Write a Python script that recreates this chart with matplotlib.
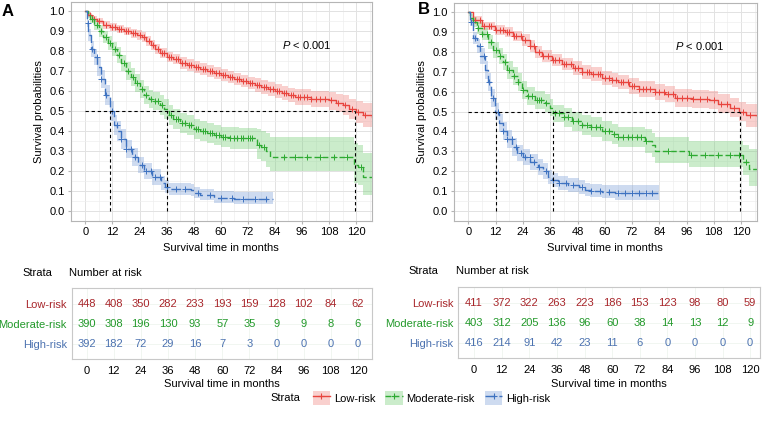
import numpy as np
import matplotlib
matplotlib.use("Agg")
import matplotlib.pyplot as plt
from matplotlib.patches import Patch
from matplotlib.lines import Line2D

# ---------------- data ----------------
strata = ["Low-risk", "Moderate-risk", "High-risk"]
risk_times = [0, 12, 24, 36, 48, 60, 72, 84, 96, 108, 120]

# panel A
a_low_t = [0, 1, 3, 5, 8, 11, 14, 17, 20, 23, 25, 27, 29, 31, 33, 36, 39, 42, 45, 48, 51, 54, 57, 60, 63, 66, 69, 72, 75, 78, 81, 84, 87, 90, 93, 96, 100, 104, 108, 111, 114, 117, 120, 123, 127]
a_low_s = [1.0, 0.98, 0.96, 0.95, 0.93, 0.92, 0.91, 0.90, 0.89, 0.88, 0.87, 0.85, 0.83, 0.81, 0.79, 0.77, 0.76, 0.74, 0.73, 0.72, 0.71, 0.70, 0.69, 0.68, 0.67, 0.66, 0.65, 0.64, 0.63, 0.62, 0.61, 0.60, 0.59, 0.58, 0.57, 0.57, 0.56, 0.56, 0.555, 0.54, 0.53, 0.51, 0.495, 0.48, 0.47]
a_low_up = [1.0, 0.99, 0.975, 0.965, 0.95, 0.94, 0.93, 0.92, 0.91, 0.905, 0.895, 0.875, 0.855, 0.835, 0.815, 0.795, 0.785, 0.77, 0.76, 0.75, 0.74, 0.73, 0.72, 0.71, 0.70, 0.69, 0.68, 0.67, 0.665, 0.655, 0.645, 0.635, 0.625, 0.615, 0.61, 0.61, 0.60, 0.60, 0.595, 0.585, 0.58, 0.56, 0.55, 0.54, 0.535]
a_low_lo = [1.0, 0.97, 0.945, 0.935, 0.91, 0.90, 0.89, 0.88, 0.865, 0.855, 0.845, 0.825, 0.805, 0.785, 0.765, 0.745, 0.735, 0.71, 0.70, 0.69, 0.68, 0.67, 0.66, 0.65, 0.64, 0.63, 0.62, 0.61, 0.595, 0.585, 0.575, 0.565, 0.555, 0.545, 0.53, 0.53, 0.52, 0.52, 0.505, 0.495, 0.48, 0.46, 0.44, 0.42, 0.41]
a_low_cens = [2, 4, 6, 9, 12, 13, 15, 16, 18, 19, 21, 22, 24, 26, 28, 30, 32, 34, 35, 37, 38, 40, 41, 43, 44, 46, 47, 49, 50, 52, 53, 55, 56, 58, 59, 61, 62, 64, 65, 67, 68, 70, 71, 73, 74, 76, 77, 79, 80, 82, 83, 85, 86, 88, 89, 91, 92, 94, 95, 97, 98, 100, 102, 104, 106, 109, 112, 115, 118, 121, 124]

a_mod_t = [0, 1, 2, 4, 6, 8, 10, 12, 14, 16, 18, 20, 22, 24, 26, 28, 30, 33, 35, 37, 39, 42, 45, 48, 51, 54, 57, 60, 64, 68, 76, 78, 80, 82, 119, 121, 123, 127]
a_mod_s = [1.0, 0.98, 0.96, 0.93, 0.90, 0.87, 0.84, 0.81, 0.78, 0.74, 0.70, 0.67, 0.64, 0.61, 0.58, 0.56, 0.55, 0.53, 0.51, 0.48, 0.46, 0.44, 0.43, 0.41, 0.40, 0.39, 0.38, 0.37, 0.365, 0.365, 0.33, 0.32, 0.30, 0.27, 0.23, 0.22, 0.17, 0.17]
a_mod_up = [1.0, 0.995, 0.98, 0.955, 0.93, 0.90, 0.875, 0.845, 0.82, 0.78, 0.745, 0.715, 0.685, 0.655, 0.625, 0.605, 0.595, 0.58, 0.56, 0.53, 0.51, 0.49, 0.48, 0.46, 0.45, 0.44, 0.43, 0.42, 0.42, 0.415, 0.41, 0.40, 0.39, 0.37, 0.34, 0.33, 0.29, 0.29]
a_mod_lo = [1.0, 0.965, 0.94, 0.905, 0.87, 0.84, 0.805, 0.775, 0.74, 0.70, 0.655, 0.625, 0.595, 0.565, 0.535, 0.515, 0.505, 0.48, 0.46, 0.43, 0.41, 0.39, 0.38, 0.36, 0.35, 0.34, 0.33, 0.32, 0.31, 0.31, 0.26, 0.25, 0.22, 0.20, 0.14, 0.13, 0.08, 0.08]
a_mod_cens = [3, 5, 7, 9, 11, 13, 15, 17, 19, 21, 23, 25, 27, 29, 31, 32, 34, 38, 40, 41, 43, 44, 46, 47, 49, 50, 52, 53, 55, 56, 58, 59, 61, 62, 64, 66, 67, 69, 70, 72, 73, 74, 77, 79, 88, 93, 98, 104, 110, 116, 122]

a_high_t = [0, 0.6, 1.2, 2.4, 3.8, 5.3, 6.8, 8.6, 10.9, 12.7, 14.2, 15.6, 17.8, 20.8, 23.3, 26, 29.6, 33.3, 35.5, 37, 46.6, 48, 51, 57, 66, 83]
a_high_s = [1.0, 0.94, 0.88, 0.81, 0.77, 0.72, 0.66, 0.58, 0.50, 0.43, 0.40, 0.36, 0.31, 0.27, 0.23, 0.20, 0.17, 0.14, 0.12, 0.11, 0.105, 0.09, 0.08, 0.065, 0.06, 0.06]
a_high_up = [1.0, 0.96, 0.91, 0.85, 0.81, 0.765, 0.705, 0.63, 0.55, 0.48, 0.45, 0.41, 0.355, 0.315, 0.27, 0.24, 0.21, 0.175, 0.155, 0.14, 0.135, 0.12, 0.11, 0.10, 0.095, 0.095]
a_high_lo = [1.0, 0.92, 0.85, 0.77, 0.73, 0.675, 0.615, 0.53, 0.45, 0.38, 0.35, 0.31, 0.265, 0.225, 0.19, 0.16, 0.13, 0.105, 0.09, 0.08, 0.075, 0.065, 0.055, 0.04, 0.035, 0.035]
a_high_cens = [1, 3, 5, 7, 9, 12, 14, 16, 18, 20, 22, 25, 27, 29, 31, 33, 36, 40, 44, 50, 55, 60, 65, 70, 75, 80]

a_risk_low = [448, 408, 350, 282, 233, 193, 159, 128, 102, 84, 62]
a_risk_mod = [390, 308, 196, 130, 93, 57, 35, 9, 9, 8, 6]
a_risk_high = [392, 182, 72, 29, 16, 7, 3, 0, 0, 0, 0]
a_medians = [10.9, 36.0, 119.6]

# panel B
b_low_t = [0, 2.2, 5.9, 11.7, 16, 19.8, 23.5, 27, 29.4, 32.3, 36.7, 41, 46, 50, 54, 58.7, 63, 66, 70.5, 75, 82, 86.7, 91, 98.4, 105.7, 110, 115, 119, 122, 127]
b_low_s = [1.0, 0.96, 0.93, 0.91, 0.90, 0.88, 0.86, 0.83, 0.80, 0.78, 0.76, 0.74, 0.72, 0.70, 0.69, 0.67, 0.66, 0.65, 0.63, 0.615, 0.60, 0.59, 0.57, 0.565, 0.56, 0.54, 0.52, 0.50, 0.48, 0.475]
b_low_up = [1.0, 0.98, 0.95, 0.935, 0.925, 0.905, 0.89, 0.86, 0.83, 0.81, 0.79, 0.77, 0.755, 0.735, 0.725, 0.705, 0.695, 0.685, 0.67, 0.655, 0.64, 0.63, 0.615, 0.61, 0.605, 0.59, 0.57, 0.55, 0.54, 0.535]
b_low_lo = [1.0, 0.94, 0.91, 0.885, 0.875, 0.855, 0.83, 0.80, 0.77, 0.75, 0.73, 0.71, 0.685, 0.665, 0.655, 0.635, 0.625, 0.615, 0.59, 0.575, 0.56, 0.55, 0.525, 0.52, 0.515, 0.49, 0.47, 0.45, 0.42, 0.415]
b_low_cens = [3, 5, 7, 9, 10, 12, 14, 15, 17, 18, 20, 21, 23, 25, 27, 29, 31, 33, 35, 37, 38, 40, 42, 43, 45, 47, 48, 50, 52, 53, 55, 57, 58, 60, 62, 63, 65, 67, 68, 70, 72, 73, 75, 77, 78, 80, 82, 84, 86, 88, 90, 92, 94, 96, 99, 102, 105, 108, 111, 114, 117, 121, 124]

b_mod_t = [0, 0.7, 1.8, 3.7, 5.9, 8.5, 11, 13.5, 15.4, 16.9, 19.8, 22, 23.5, 25.7, 29.4, 33.8, 36, 37.4, 41.9, 45.5, 50, 54, 58.7, 63, 66, 75.6, 77.8, 80.8, 82.2, 95.4, 96.9, 119.7, 121, 123.3, 127]
b_mod_s = [1.0, 0.97, 0.95, 0.92, 0.89, 0.85, 0.81, 0.78, 0.75, 0.71, 0.68, 0.65, 0.61, 0.58, 0.56, 0.545, 0.52, 0.49, 0.47, 0.45, 0.43, 0.42, 0.40, 0.385, 0.37, 0.37, 0.35, 0.33, 0.30, 0.30, 0.28, 0.28, 0.245, 0.21, 0.21]
b_mod_up = [1.0, 0.99, 0.975, 0.95, 0.92, 0.885, 0.85, 0.82, 0.79, 0.755, 0.725, 0.695, 0.655, 0.625, 0.605, 0.59, 0.565, 0.535, 0.52, 0.50, 0.48, 0.47, 0.45, 0.435, 0.42, 0.42, 0.41, 0.39, 0.37, 0.37, 0.35, 0.35, 0.33, 0.31, 0.31]
b_mod_lo = [1.0, 0.95, 0.925, 0.89, 0.86, 0.815, 0.77, 0.74, 0.71, 0.665, 0.635, 0.605, 0.565, 0.535, 0.515, 0.50, 0.475, 0.445, 0.42, 0.40, 0.38, 0.37, 0.35, 0.335, 0.32, 0.32, 0.29, 0.27, 0.24, 0.24, 0.22, 0.22, 0.18, 0.125, 0.125]
b_mod_cens = [2, 4, 6, 8, 10, 12, 14, 16, 18, 20, 22, 24, 26, 28, 30, 31, 32, 34, 38, 40, 42, 44, 46, 48, 50, 52, 54, 56, 58, 60, 62, 64, 66, 68, 70, 72, 74, 76, 78, 88, 98, 104, 110, 115, 119, 122]

b_high_t = [0, 0.7, 1.8, 3.7, 5.1, 7.3, 8.5, 10, 11.7, 13.5, 15, 16.9, 19.1, 21.3, 24.2, 27.2, 30.8, 33, 35.2, 36.7, 39.6, 44, 48.5, 51.4, 53.6, 58.7, 64.6, 84]
b_high_s = [1.0, 0.95, 0.87, 0.83, 0.78, 0.71, 0.65, 0.57, 0.50, 0.44, 0.40, 0.36, 0.32, 0.29, 0.27, 0.245, 0.22, 0.20, 0.17, 0.155, 0.14, 0.13, 0.12, 0.105, 0.10, 0.095, 0.09, 0.09]
b_high_up = [1.0, 0.97, 0.90, 0.865, 0.82, 0.755, 0.695, 0.615, 0.545, 0.485, 0.445, 0.405, 0.365, 0.33, 0.31, 0.285, 0.26, 0.24, 0.205, 0.19, 0.175, 0.165, 0.155, 0.14, 0.135, 0.13, 0.13, 0.13]
b_high_lo = [1.0, 0.93, 0.84, 0.795, 0.74, 0.665, 0.605, 0.525, 0.455, 0.395, 0.355, 0.315, 0.275, 0.25, 0.23, 0.205, 0.18, 0.16, 0.135, 0.12, 0.105, 0.095, 0.085, 0.075, 0.07, 0.065, 0.055, 0.055]
b_high_cens = [1, 3, 5, 7, 9, 11, 13, 15, 17, 19, 21, 23, 25, 27, 29, 31, 34, 37, 40, 43, 46, 50, 54, 58, 62, 66, 69, 72, 75, 78, 81]

b_risk_low = [411, 372, 322, 263, 223, 186, 153, 123, 98, 80, 59]
b_risk_mod = [403, 312, 205, 136, 96, 60, 38, 14, 13, 12, 9]
b_risk_high = [416, 214, 91, 42, 23, 11, 6, 0, 0, 0, 0]
b_medians = [12.0, 37.2, 119.6]

# ---------------- style ----------------
line_cols = ["#E8443E", "#2EAA32", "#3E72C0"]
band_cols = ["#F08A86", "#7DD07F", "#86A6DA"]
text_cols = ["#A8262B", "#22992A", "#4C72B0"]
styles = ["-", (0, (4, 2)), (0, (7, 3))]
FS = 8

plt.rcParams["font.family"] = ["Liberation Sans", "DejaVu Sans"]
plt.rcParams["font.size"] = FS
plt.rcParams["mathtext.fontset"] = "custom"
plt.rcParams["mathtext.it"] = "Liberation Sans:italic"
plt.rcParams["mathtext.rm"] = "Liberation Sans"


def step_at(t, s, x):
    idx = np.searchsorted(t, x, side="right") - 1
    return np.asarray(s)[idx]


def draw_km(ax, curves, medians):
    for i, (t, s, lo, up, cens) in enumerate(curves):
        ax.fill_between(t, lo, up, step="post", color=band_cols[i], alpha=0.4, lw=0)
        ax.step(t, s, where="post", color=line_cols[i], lw=1.0, linestyle=styles[i])
        ax.plot(cens, step_at(t, s, cens), ls="none", marker="+", ms=4,
                mew=0.7, color=line_cols[i])
    ax.plot([0, max(medians)], [0.5, 0.5], color="black", lw=0.8, ls=(0, (3, 2.5)))
    for m in medians:
        ax.plot([m, m], [0, 0.5], color="black", lw=0.8, ls=(0, (3, 2.5)))
    ax.set_xlim(-6.5, 127)
    ax.set_ylim(-0.05, 1.045)
    ax.set_xticks(risk_times)
    ax.set_xticks(np.arange(6, 127, 12), minor=True)
    ax.set_yticks(np.arange(0, 1.01, 0.1))
    ax.set_yticks(np.arange(0.05, 1.01, 0.1), minor=True)
    ax.set_yticklabels(["%.1f" % v for v in np.arange(0, 1.01, 0.1)])
    ax.grid(which="major", color="#E2E2E2", lw=0.7)
    ax.grid(which="minor", color="#EEEEEE", lw=0.5)
    ax.set_axisbelow(True)
    for sp in ax.spines.values():
        sp.set_color("#B5B5B5")
    ax.tick_params(which="major", length=2.5, color="#B5B5B5", labelsize=FS, pad=1.8)
    ax.tick_params(which="minor", length=0)
    ax.set_xlabel("Survival time in months", fontsize=FS, labelpad=4.5)
    ax.set_ylabel("Survival probabilities", fontsize=FS, labelpad=4)


def draw_table(ax, rows, xlim):
    for i, row in enumerate(rows):
        y = 2 - i
        for x, n in zip(risk_times, row):
            ax.text(x, y, str(n), ha="center", va="center", color=text_cols[i], fontsize=FS)
    ax.set_xlim(*xlim)
    ax.set_ylim(-0.75, 2.8)
    ax.set_xticks(risk_times)
    ax.set_yticks([2, 1, 0])
    ax.set_yticklabels(strata)
    for lab, c in zip(ax.get_yticklabels(), text_cols):
        lab.set_color(c)
    ax.grid(color="#EFF5EF", lw=0.6)
    ax.set_axisbelow(True)
    for sp in ax.spines.values():
        sp.set_color("#C8C8C8")
    ax.tick_params(axis="x", length=0, labelsize=FS, pad=5)
    ax.tick_params(axis="y", length=0, labelsize=FS, pad=3.5)
    ax.set_xlabel("Survival time in months", fontsize=FS, labelpad=2.5)


W, H = 764, 425
fig = plt.figure(figsize=(W / 100, H / 100), dpi=100)


def box(l, t, r, b):
    return [l / W, 1 - b / H, (r - l) / W, (b - t) / H]


axA = fig.add_axes(box(70.7, 2, 372, 221))
axB = fig.add_axes(box(453.7, 3, 757, 221))

draw_km(axA, [(a_low_t, a_low_s, a_low_lo, a_low_up, a_low_cens),
              (a_mod_t, a_mod_s, a_mod_lo, a_mod_up, a_mod_cens),
              (a_high_t, a_high_s, a_high_lo, a_high_up, a_high_cens)], a_medians)
draw_km(axB, [(b_low_t, b_low_s, b_low_lo, b_low_up, b_low_cens),
              (b_mod_t, b_mod_s, b_mod_lo, b_mod_up, b_mod_cens),
              (b_high_t, b_high_s, b_high_lo, b_high_up, b_high_cens)], b_medians)

axA.text(87, 0.83, "$P$ < 0.001", fontsize=FS, va="center")
axB.text(91, 0.83, "$P$ < 0.001", fontsize=FS, va="center")

fig.text(2 / W, 1 - 12 / H, "A", fontsize=12, fontweight="bold", va="center")
fig.text(418 / W, 1 - 9 / H, "B", fontsize=12, fontweight="bold", va="center")

tA = fig.add_axes(box(71.7, 288.3, 372, 359))
tB = fig.add_axes(box(458, 287.3, 760, 358.3))
draw_table(tA, [a_risk_low, a_risk_mod, a_risk_high], (-6.6, 126.2))
draw_table(tB, [b_risk_low, b_risk_mod, b_risk_high], (-7.0, 124.3))

fig.text(22 / W, 1 - 273 / H, "Strata", fontsize=FS, va="center")
fig.text(69 / W, 1 - 273 / H, "Number at risk", fontsize=FS, va="center")
fig.text(408 / W, 1 - 271 / H, "Strata", fontsize=FS, va="center")
fig.text(456 / W, 1 - 271 / H, "Number at risk", fontsize=FS, va="center")

# legend
handles = []
for i in range(3):
    handles.append((Patch(facecolor=band_cols[i], alpha=0.4, lw=0),
                    Line2D([], [], color=line_cols[i], ls=styles[i], lw=1.0,
                           marker="+", ms=5, mew=0.8)))
fig.text(270 / W, 1 - 398 / H, "Strata", fontsize=FS, va="center")
fig.legend(handles, strata, ncol=3, loc="center left", bbox_to_anchor=(307 / W, 1 - 398 / H),
           frameon=False, fontsize=FS, handlelength=1.6, handleheight=1.6,
           handletextpad=0.3, columnspacing=0.9, borderpad=0)

fig.savefig("out.png", dpi=100)
